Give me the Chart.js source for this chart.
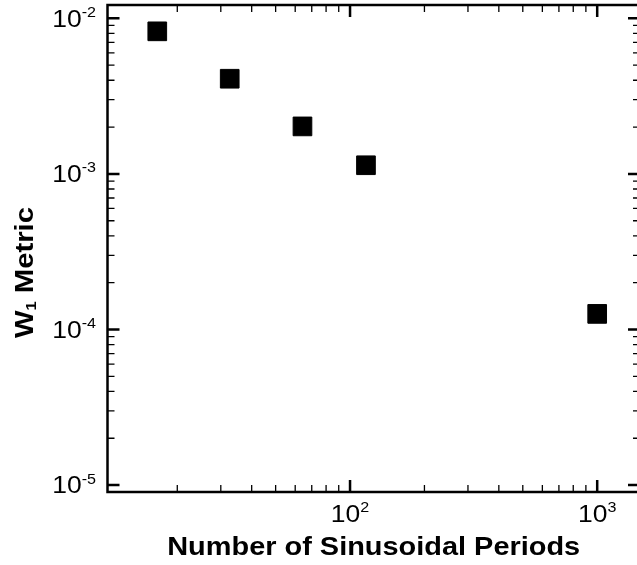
<!DOCTYPE html>
<html><head><meta charset="utf-8">
<script src="https://cdn.jsdelivr.net/npm/chart.js@4.4.0/dist/chart.umd.min.js"></script>
<style>
html,body{margin:0;padding:0;background:#fff;overflow:hidden;width:637px;height:565px}
#wrap{position:absolute;left:0;top:0;width:645px;height:565px}
</style>
</head><body><div id="wrap"><canvas id="c" width="645" height="565"></canvas></div>
<script>
// ---- data ----
const periods = [16.6, 32.6, 64.2, 116, 1000];
const w1Metric = [0.00825, 0.00409, 0.00202, 0.001137, 0.000126];
// ---- axis ticks / labels ----
const xMajorTicks = [100, 1000];
const xTickExponents = ['2', '3'];
const yMajorTicks = [1e-2, 1e-3, 1e-4, 1e-5];
const yTickExponents = ['-2', '-3', '-4', '-5'];
const xTitle = 'Number of Sinusoidal Periods';
const yTitleMain = 'W';
const yTitleSub = '1';
const yTitleRest = ' Metric';
const xRange = [10.44, 1490];
const yRange = [9.03e-6, 0.01218];

const FONT = "'Liberation Sans', Arial, Helvetica, sans-serif";
const STRETCH = 1.15;

function minorValues(min, max) {
  const out = [];
  for (let e = Math.floor(Math.log10(min)); e <= Math.ceil(Math.log10(max)); e++) {
    for (let m = 2; m <= 9; m++) {
      const v = m * Math.pow(10, e);
      if (v > min && v < max) out.push(v);
    }
  }
  return out;
}

function textW(ctx, str, font, sx) {
  ctx.font = font;
  return ctx.measureText(str).width * sx;
}
function drawT(ctx, str, x, y, font, sx) {
  ctx.save();
  ctx.translate(x, y);
  ctx.scale(sx, 1);
  ctx.font = font;
  ctx.textAlign = 'left';
  ctx.textBaseline = 'alphabetic';
  ctx.fillText(str, 0, 0);
  ctx.restore();
}

const framePlugin = {
  id: 'frame',
  afterDraw(chart) {
    const ctx = chart.ctx;
    const a = chart.chartArea;
    const xs = chart.scales.x, ys = chart.scales.y;
    ctx.save();
    ctx.strokeStyle = '#000';
    ctx.fillStyle = '#000';
    ctx.lineCap = 'butt';
    ctx.lineWidth = 2.5;
    ctx.strokeRect(a.left, a.top, a.right - a.left, a.bottom - a.top);
    const MAJ = 12, MIN = 7;
    function hTick(x, len, w) {
      ctx.lineWidth = w;
      ctx.beginPath();
      ctx.moveTo(x, a.bottom); ctx.lineTo(x, a.bottom - len);
      ctx.moveTo(x, a.top); ctx.lineTo(x, a.top + len);
      ctx.stroke();
    }
    function vTick(y, len, w) {
      ctx.lineWidth = w;
      ctx.beginPath();
      ctx.moveTo(a.left, y); ctx.lineTo(a.left + len, y);
      ctx.moveTo(a.right, y); ctx.lineTo(a.right - len, y);
      ctx.stroke();
    }
    minorValues(xRange[0], xRange[1]).forEach(v => hTick(xs.getPixelForValue(v), MIN, 1.3));
    xMajorTicks.forEach(v => hTick(xs.getPixelForValue(v), MAJ, 2.5));
    minorValues(yRange[0], yRange[1]).forEach(v => vTick(ys.getPixelForValue(v), MIN, 1.3));
    yMajorTicks.forEach(v => vTick(ys.getPixelForValue(v), MAJ, 2.5));

    // tick labels
    const mainF = '23px ' + FONT, expF = '14px ' + FONT;
    yMajorTicks.forEach((v, i) => {
      const y = ys.getPixelForValue(v);
      const we = textW(ctx, yTickExponents[i], expF, STRETCH);
      const wm = textW(ctx, '10', mainF, STRETCH);
      const right = 96;
      drawT(ctx, '10', right - we - wm, y + 8.3, mainF, STRETCH);
      drawT(ctx, yTickExponents[i], right - we, y - 1.5, expF, STRETCH);
    });
    xMajorTicks.forEach((v, i) => {
      const x = xs.getPixelForValue(v);
      const we = textW(ctx, xTickExponents[i], expF, STRETCH);
      const wm = textW(ctx, '10', mainF, STRETCH);
      const left = x - (we + wm) / 2;
      drawT(ctx, '10', left, 521.7, mainF, STRETCH);
      drawT(ctx, xTickExponents[i], left + wm, 511.7, expF, STRETCH);
    });

    // x title
    const tF = 'bold 25.5px ' + FONT;
    const tW = textW(ctx, xTitle, tF, 1.134);
    drawT(ctx, xTitle, 373.7 - tW / 2, 555, tF, 1.134);

    // y title (rotated)
    ctx.save();
    ctx.translate(33.3, 272.5);
    ctx.rotate(-Math.PI / 2);
    const bigF = 'bold 25px ' + FONT, subF = 'bold 14px ' + FONT;
    const ys2 = 1.17;
    const w1 = textW(ctx, yTitleMain, bigF, ys2);
    const w2 = textW(ctx, yTitleSub, subF, ys2);
    const w3 = textW(ctx, yTitleRest, bigF, ys2);
    let sx = -(w1 + w2 + w3) / 2;
    drawT(ctx, yTitleMain, sx, 0, bigF, ys2); sx += w1;
    drawT(ctx, yTitleSub, sx, 3, subF, ys2); sx += w2;
    drawT(ctx, yTitleRest, sx, 0, bigF, ys2);
    ctx.restore();

    ctx.restore();
  }
};

new Chart(document.getElementById('c'), {
  type: 'scatter',
  data: {
    datasets: [{
      data: periods.map((x, i) => ({ x: x, y: w1Metric[i] })),
      pointStyle: 'rect',
      pointRadius: 13.2,
      pointHoverRadius: 13.2,
      backgroundColor: '#000',
      borderColor: '#000',
      borderWidth: 1
    }]
  },
  options: {
    responsive: false,
    animation: false,
    events: [],
    layout: { autoPadding: false, padding: { left: 107.5, top: 5, right: 5, bottom: 73 } },
    plugins: { legend: { display: false }, tooltip: { enabled: false } },
    scales: {
      x: { type: 'logarithmic', display: false, min: xRange[0], max: xRange[1], bounds: 'data' },
      y: { type: 'logarithmic', display: false, min: yRange[0], max: yRange[1], bounds: 'data' }
    }
  },
  plugins: [framePlugin]
});
</script>
</body></html>
